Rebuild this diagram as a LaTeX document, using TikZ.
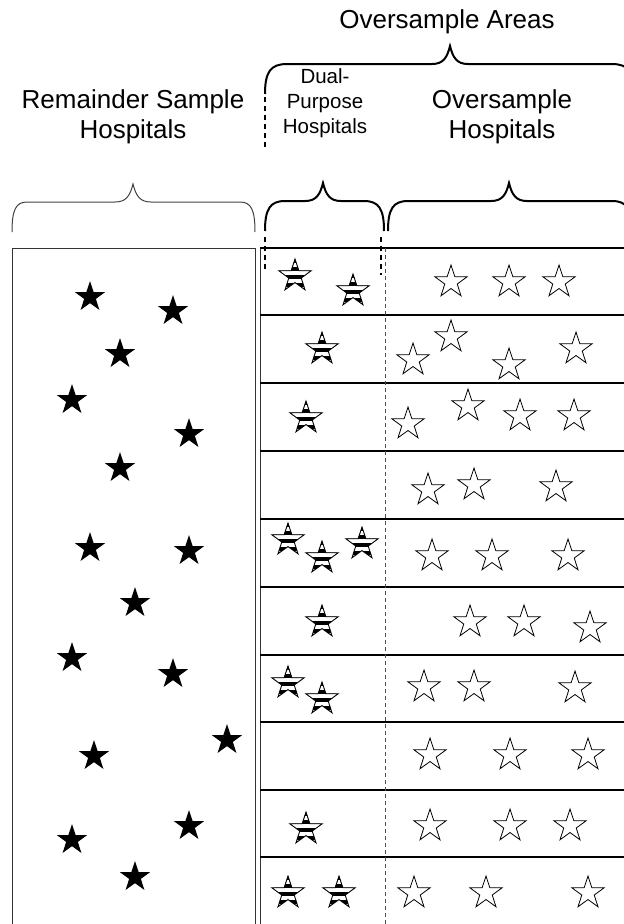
\documentclass[tikz,border=0pt]{standalone}
\usepackage{fontspec}
\setmainfont{Liberation Sans}
\usetikzlibrary{shapes.geometric}

\tikzset{
  headtext/.style={font=\fontsize{26}{30}\selectfont, align=center, inner sep=0pt},
  dualtext/.style={font=\fontsize{20.5}{25}\selectfont, align=center, inner sep=0pt},
  thickbrace/.style={line width=2pt},
  thinbrace/.style={line width=1pt, black!75},
  boxline/.style={line width=1pt, black!80},
  rowline/.style={line width=1.6pt},
  guide/.style={dashed, line width=1.2pt, dash pattern=on 5pt off 4pt},
  divider/.style={dashed, line width=0.8pt, black!70, dash pattern=on 4pt off 3pt},
  starbase/.style={star, star points=5, star point ratio=2.6, minimum size=34pt, inner sep=0pt},
  solidstar/.style={starbase, fill=black, minimum size=32pt},
  openstar/.style={starbase, draw, line width=0.8pt, fill=white},
  stripestar/.style={starbase, draw, line width=0.9pt, fill=white,
    path picture={
      \foreach \k in {0,2,4,6}
        \fill[black] ([yshift=-\k*4pt]path picture bounding box.north west)
          rectangle ([yshift=-(\k+1)*4pt]path picture bounding box.north east);
    }}
}

% brace: [style]{x left}{x right}{x tip}{y bar}{corner width}
\newcommand{\hbrace}[6][]{%
  \draw[#1] (#2,#5+30) .. controls (#2,#5+8) and (#2+#6/4,#5) .. (#2+#6,#5)
    -- (#4-18,#5) .. controls (#4-7,#5) and (#4-3,#5-6) .. (#4,#5-18)
    .. controls (#4+3,#5-6) and (#4+7,#5) .. (#4+18,#5)
    -- (#3-#6,#5) .. controls (#3-#6/4,#5) and (#3,#5+8) .. (#3,#5+30);}

\begin{document}
\begin{tikzpicture}[x=1pt,y=-1pt]
\useasboundingbox (0,0) rectangle (624,924);

% Headings
\node[headtext] (areas) at (447,22) {Oversample Areas};
\node[headtext] (remainder) at (133,117) {Remainder Sample\\Hospitals};
\node[dualtext] (dual) at (325,103) {Dual-\\Purpose\\Hospitals};
\node[headtext] (over) at (502,117) {Oversample\\Hospitals};

% Braces
\hbrace[thickbrace]{265}{634}{450}{64}{22}
\hbrace[thinbrace]{12}{255}{133}{202}{15}
\hbrace[thickbrace]{265}{384}{323}{201}{20}
\hbrace[thickbrace]{388}{632}{509}{201}{20}

% Guides
\draw[guide] (265,97) -- (265,147);
\draw[guide] (265,237) -- (265,272);
\draw[guide] (381,237) -- (381,275);

% Left box
\draw[boxline] (12,924) -- (12,248) -- (255,248) -- (255,924);

% Right panel with rows
\draw[boxline] (260,924) -- (260,248);
\draw[rowline] (260,248) -- (624,248);
\foreach \y in {315,383,451,519,587,655,722,790,857}
  \draw[rowline] (260,\y) -- (624,\y);
\draw[divider] (385,248) -- (385,924);

% Remainder sample hospitals
\foreach \x/\y [count=\i] in {90/297,173/311,120/354,72/400,189/434,120/468,
    90/548,189/551,135/603,72/658,173/674,227/740,94/756,189/826,72/840,135/877}
  \node[solidstar] (rs\i) at (\x,\y) {};

% Dual-purpose hospitals
\foreach \x/\y [count=\i] in {295/276,353/291,322/349,306/418,288/540,322/558,
    362/544,322/622,288/683,322/699,306/829,288/893,339/893}
  \node[stripestar] (dp\i) at (\x,\y) {};

% Oversample hospitals
\foreach \x/\y [count=\i] in {451/282,509/282,559/282,
    413/360,451/337,509/365,576/349,
    408/424,468/406,520/416,574/416,
    428/490,474/485,556/487,
    432/556,492/556,568/556,
    470/622,524/622,590/628,
    424/687,474/687,575/688,
    430/755,510/755,588/755,
    430/826,510/826,570/826,
    414/893,486/893,588/893}
  \node[openstar] (os\i) at (\x,\y) {};

\end{tikzpicture}
\end{document}
